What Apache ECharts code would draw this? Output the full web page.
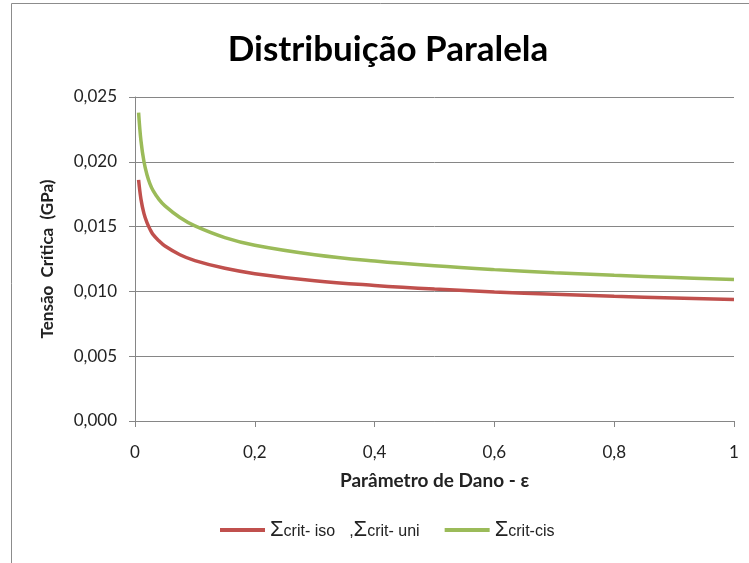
<!DOCTYPE html>
<html>
<head>
<meta charset="utf-8">
<script src="https://cdn.jsdelivr.net/npm/echarts@6/dist/echarts.min.js"></script>
<style>html,body{margin:0;padding:0;background:#fff;}#c{width:749px;height:563px;}</style>
</head>
<body>
<div id="c"></div>
<script>
const titleText = 'Distribuição Paralela';
const xAxisName = 'Parâmetro de Dano - ε';
const yAxisName = 'Tensão  Crítica  (GPa)';
const seriesNames = ['Σcrit- iso ,Σcrit- uni', 'Σcrit-cis'];
const xValues = [0.006, 0.01, 0.015, 0.02, 0.025, 0.03, 0.04, 0.05, 0.075, 0.1, 0.15, 0.2, 0.3, 0.4, 0.5, 0.6, 0.7, 0.8, 0.9, 1.0];
const isoUniValues = [0.0186, 0.0171, 0.0160, 0.0153, 0.0148, 0.0144, 0.0139, 0.01350, 0.01283, 0.01238, 0.01178, 0.01137, 0.01082, 0.01046, 0.01018, 0.00996, 0.00978, 0.00962, 0.00949, 0.00937];
const cisValues = [0.0238, 0.0216, 0.0200, 0.0190, 0.0183, 0.0178, 0.0171, 0.0166, 0.0157, 0.01505, 0.01415, 0.01356, 0.01283, 0.01234, 0.01197, 0.01168, 0.01144, 0.01124, 0.01107, 0.01091];
const yTicks = [0, 0.005, 0.010, 0.015, 0.020, 0.025];
const xTicks = [0, 0.2, 0.4, 0.6, 0.8, 1];

const colors = ['#C0504D', '#9BBB59'];
const chart = echarts.init(document.getElementById('c'), null, {renderer: 'canvas'});

function legendFmt(name) {
  return name.split('Σ').map((p, i) => {
    if (i === 0) return p ? '{t|' + p + '}' : '';
    const parts = p.split(' ,');
    return '{s|Σ}{t|' + parts[0] + '}' + (parts.length > 1 ? '{gap|}{t|,}' : '');
  }).join('');
}

chart.setOption({
  animation: false,
  backgroundColor: '#fff',
  graphic: [{
    type: 'rect', silent: true,
    shape: {x: 11.5, y: 3.5, width: 900, height: 700},
    style: {fill: 'none', stroke: '#8c8c8c', lineWidth: 1}
  }],
  title: {
    text: titleText, left: 383, textAlign: 'center', top: 27,
    textStyle: {fontFamily: 'Lato', fontWeight: 'bold', fontSize: 35, color: '#000'}
  },
  grid: {left: 135, right: 15, top: 97, bottom: 142},
  legend: {
    left: 215, top: 514,
    itemWidth: 45, itemHeight: 4, itemGap: 25,
    icon: 'rect',
    formatter: legendFmt,
    textStyle: {
      color: '#222',
      rich: {
        s: {fontFamily: 'Liberation Sans', fontSize: 22, color: '#222'},
        t: {fontFamily: 'Liberation Sans', fontSize: 16, color: '#222', padding: [4, 0, 0, 0]},
        gap: {width: 14}
      }
    },
    data: seriesNames
  },
  xAxis: {
    type: 'value', min: 0, max: 1, interval: 0.2,
    name: xAxisName, nameLocation: 'middle', nameGap: 50,
    nameTextStyle: {fontFamily: 'Lato', fontWeight: 'bold', fontSize: 19, color: '#222'},
    axisLine: {show: true, lineStyle: {color: '#868686'}},
    axisTick: {show: true, length: 6, lineStyle: {color: '#868686'}},
    splitLine: {show: false},
    axisLabel: {
      fontFamily: 'Lato', fontSize: 17, color: '#222', margin: 23,
      formatter: v => { const t = xTicks.find(k => Math.abs(k - v) < 1e-9); return t === undefined ? '' : String(t).replace('.', ','); }
    }
  },
  yAxis: {
    type: 'value', min: 0, max: 0.025, interval: 0.005,
    name: yAxisName, nameLocation: 'middle', nameGap: 79, nameRotate: 90,
    nameTextStyle: {fontFamily: 'Lato', fontWeight: 'bold', fontSize: 17, color: '#222'},
    axisLine: {show: true, lineStyle: {color: '#868686'}},
    axisTick: {show: true, length: 6, lineStyle: {color: '#868686'}},
    splitLine: {show: true, lineStyle: {color: '#868686', width: 1}},
    axisLabel: {
      fontFamily: 'Lato', fontSize: 17, color: '#222', margin: 18,
      formatter: v => { const t = yTicks.find(k => Math.abs(k - v) < 1e-9); return t === undefined ? '' : t.toFixed(3).replace('.', ','); }
    }
  },
  series: [
    {
      name: seriesNames[0], type: 'line', smooth: 0.4, showSymbol: false,
      color: colors[0], lineStyle: {width: 3.5, color: colors[0]},
      data: xValues.map((x, i) => [x, isoUniValues[i]])
    },
    {
      name: seriesNames[1], type: 'line', smooth: 0.4, showSymbol: false,
      color: colors[1], lineStyle: {width: 3.5, color: colors[1]},
      data: xValues.map((x, i) => [x, cisValues[i]])
    }
  ]
});
</script>
</body>
</html>
